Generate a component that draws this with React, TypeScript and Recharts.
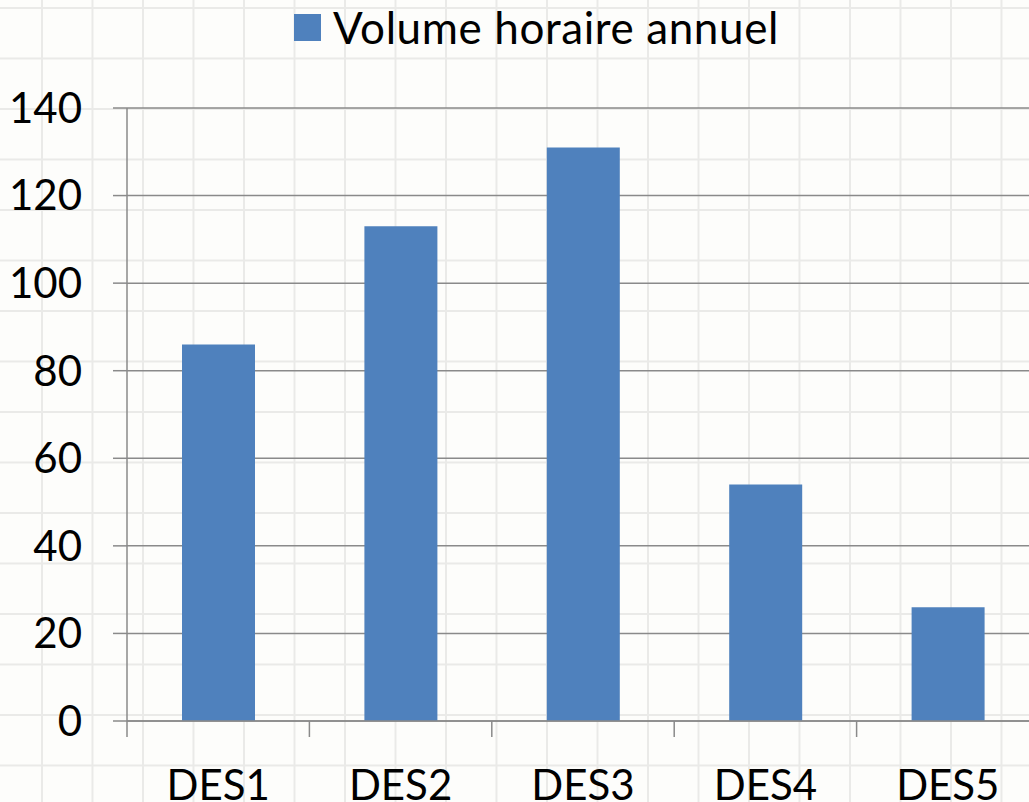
import React from 'react';
import { BarChart, Bar, XAxis, YAxis, CartesianGrid, Legend } from 'recharts';

const categories = ['DES1', 'DES2', 'DES3', 'DES4', 'DES5'];
const volumeHoraire = [86, 113, 131, 54, 26];
const yTicks = [0, 20, 40, 60, 80, 100, 120, 140];
const seriesName = 'Volume horaire annuel';

const data = categories.map((name, i) => ({ name, volume: volumeHoraire[i] }));

const FONT = 'Lato, "Open Sans", sans-serif';
const CHART_W = 1039;
const Y_AXIS_W = 127;
const HALF_BAND = (CHART_W - Y_AXIS_W) / categories.length / 2;
const AXIS_GREY = '#8a8a8a';
const BAR_BLUE = '#4f81bd';

function CategoryTick(props: any) {
  const { x, y, payload } = props;
  return (
    <g>
      <line x1={x - HALF_BAND} y1={y} x2={x - HALF_BAND} y2={y + 16} stroke={AXIS_GREY} strokeWidth={1.5} />
      <text x={x} y={y + 79} textAnchor="middle" fontSize={42} fontFamily={FONT} fill="#000">
        {payload.value}
      </text>
    </g>
  );
}

function LegendContent() {
  return (
    <div style={{ display: 'flex', alignItems: 'center', height: 48, fontFamily: FONT, fontSize: 44, color: '#000' }}>
      <span style={{ display: 'inline-block', width: 27, height: 27, background: BAR_BLUE, marginRight: 12 }} />
      <span style={{ lineHeight: '48px', letterSpacing: 0.6 }}>{seriesName}</span>
    </div>
  );
}

export default function App() {
  return (
    <div
      style={{
        position: 'absolute',
        left: 0,
        top: 0,
        width: 1029,
        height: 802,
        overflow: 'hidden',
        backgroundColor: '#fdfdfb',
        backgroundImage:
          'linear-gradient(to right, #eaeae8 1.5px, transparent 1.5px), linear-gradient(to bottom, #eaeae8 1.5px, transparent 1.5px)',
        backgroundSize: '50.5px 50.5px',
        backgroundPosition: '41px 7px',
      }}
    >
      <BarChart width={CHART_W} height={802} data={data} margin={{ top: 60, right: 0, bottom: 0, left: 0 }}>
        <Legend
          verticalAlign="top"
          content={<LegendContent />}
          wrapperStyle={{ top: 3, left: 294, width: 'auto' }}
        />
        <CartesianGrid vertical={false} stroke={AXIS_GREY} strokeWidth={1.5} />
        <XAxis
          dataKey="name"
          height={81}
          tickSize={0}
          tickMargin={0}
          tickLine={false}
          axisLine={{ stroke: AXIS_GREY, strokeWidth: 1.5 }}
          tick={<CategoryTick />}
          interval={0}
        />
        <YAxis
          width={Y_AXIS_W}
          domain={[0, 140]}
          ticks={yTicks}
          interval={0}
          tickSize={14}
          tickMargin={31}
          tickLine={{ stroke: AXIS_GREY, strokeWidth: 1.5 }}
          axisLine={{ stroke: AXIS_GREY, strokeWidth: 1.5 }}
          tick={{ fontSize: 42, fontFamily: FONT, fill: '#000' }}
        />
        <Bar dataKey="volume" name={seriesName} fill={BAR_BLUE} barSize={73} isAnimationActive={false} />
      </BarChart>
    </div>
  );
}
